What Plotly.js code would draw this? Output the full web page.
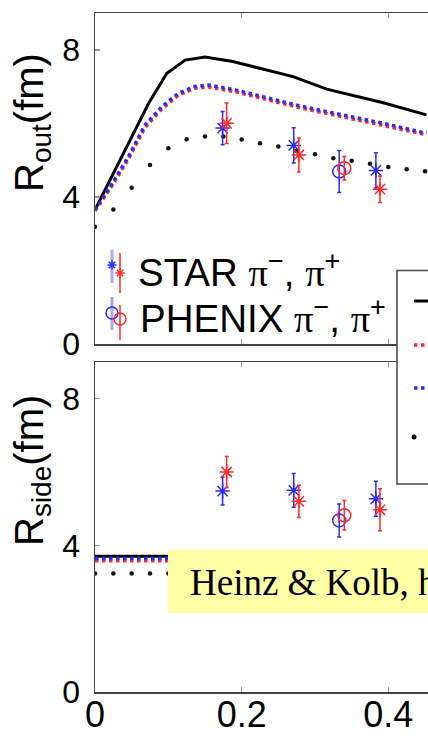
<!DOCTYPE html>
<html><head><meta charset="utf-8">
<script src="https://cdn.plot.ly/plotly-3.0.1.min.js"></script>
<style>html,body{margin:0;padding:0;overflow:hidden;background:#fff;width:428px;height:736px}#chart{width:560px;height:736px}</style>
</head><body><div id="chart"></div>
<script>
// ---------- data ----------
// model curves, top panel (R_out)
const routSolidX  = [0, 0.036, 0.073, 0.098, 0.123, 0.15, 0.188, 0.23, 0.27, 0.316, 0.36, 0.393, 0.452];
const routSolidY  = [3.65, 5.09, 6.54, 7.36, 7.72, 7.80, 7.68, 7.47, 7.27, 6.93, 6.72, 6.56, 6.23];
const routBlueX   = [0, 0.023, 0.0455, 0.068, 0.091, 0.114, 0.136, 0.155, 0.191, 0.23, 0.28, 0.33, 0.393, 0.452];
const routBlueY   = [3.65, 4.35, 5.09, 5.95, 6.45, 6.82, 7.00, 7.04, 6.91, 6.72, 6.47, 6.26, 6.00, 5.73];
const routRedY    = [3.62, 4.30, 5.03, 5.88, 6.39, 6.77, 6.95, 6.99, 6.86, 6.67, 6.42, 6.21, 5.95, 5.69];
const routDotX    = [0, 0.025, 0.05, 0.075, 0.1, 0.125, 0.15, 0.175, 0.2, 0.225, 0.25, 0.275, 0.3, 0.325, 0.35, 0.375, 0.4, 0.425, 0.45];
const routDotY    = [3.19, 3.66, 4.25, 4.87, 5.32, 5.57, 5.64, 5.64, 5.56, 5.46, 5.37, 5.25, 5.16, 5.05, 4.98, 4.90, 4.81, 4.75, 4.70];
// model curves, bottom panel (R_side), visible part only
const rsideCurveX = [0, 0.025, 0.05, 0.075, 0.1];
const rsideSolidY = [3.70, 3.70, 3.70, 3.70, 3.70];
const rsideBlueY  = [3.64, 3.64, 3.64, 3.64, 3.64];
const rsideRedY   = [3.58, 3.58, 3.58, 3.58, 3.58];
const rsideDotY   = [3.23, 3.23, 3.23, 3.23, 3.23];
// data points
const ktStarMinus   = [0.174, 0.271, 0.383];
const ktStarPlus    = [0.1795, 0.278, 0.3886];
const ktPhenixMinus = [0.333];
const ktPhenixPlus  = [0.340];
const routStarMinus = [5.87, 5.40, 4.72];  const routStarMinusErr = [0.45, 0.48, 0.48];
const routStarPlus  = [6.00, 5.14, 4.21];  const routStarPlusErr  = [0.55, 0.46, 0.36];
const routPhxMinus  = [4.69];              const routPhxMinusErr  = [0.57];
const routPhxPlus   = [4.78];              const routPhxPlusErr   = [0.32];
const rsideStarMinus = [5.48, 5.50, 5.27]; const rsideStarMinusErr = [0.38, 0.46, 0.48];
const rsideStarPlus  = [6.00, 5.20, 4.97]; const rsideStarPlusErr  = [0.42, 0.44, 0.57];
const rsidePhxMinus  = [4.68];             const rsidePhxMinusErr  = [0.45];
const rsidePhxPlus   = [4.82];             const rsidePhxPlusErr   = [0.40];
const xTicks = [0, 0.2, 0.4, 0.6];
const yTicks = [0, 4, 8];

// ---------- styling / layout ----------
const BLUE = '#2a2aff', RED = '#ff2a2a';
const W = 560, H = 736, ML = 95, MR = 25, MT = 13, MB = 44;
const PW = W - ML - MR, PH = H - MT - MB;
const px = v => (v - ML) / PW;          // pixel -> paper x
const py = v => (H - MB - v) / PH;      // pixel -> paper y
const SANS = 'Liberation Sans, Arial, Helvetica, sans-serif';
const SERIF = 'Liberation Serif, Times New Roman, serif';

function curve(x, y, xa, ya, color, dash, width) {
  return {x, y, xaxis: xa, yaxis: ya, type: 'scatter', mode: 'lines',
    line: {color, dash, width}, hoverinfo: 'skip', showlegend: false};
}
function dots(x, y, xa, ya) {
  return {x, y, xaxis: xa, yaxis: ya, type: 'scatter', mode: 'markers',
    marker: {color: '#111', size: 4.5}, hoverinfo: 'skip', showlegend: false};
}
function pts(x, y, e, xa, ya, color, symbol, size) {
  return {x, y, xaxis: xa, yaxis: ya, type: 'scatter', mode: 'markers',
    error_y: {type: 'data', array: e, visible: true, color, thickness: 1.5, width: 2},
    marker: {symbol, size, color, line: {color, width: 1.5}},
    hoverinfo: 'skip', showlegend: false};
}

const traces = [
  dots(routDotX, routDotY, 'x2', 'y2'),
  curve(routSolidX, routSolidY, 'x2', 'y2', '#000', 'solid', 3),
  curve(routBlueX, routRedY, 'x2', 'y2', RED, 'dot', 3.5),
  curve(routBlueX, routBlueY, 'x2', 'y2', BLUE, 'dot', 3.5),
  pts(ktStarMinus, routStarMinus, routStarMinusErr, 'x2', 'y2', BLUE, 'asterisk-open', 12),
  pts(ktStarPlus, routStarPlus, routStarPlusErr, 'x2', 'y2', RED, 'asterisk-open', 12),
  pts(ktPhenixMinus, routPhxMinus, routPhxMinusErr, 'x2', 'y2', BLUE, 'circle-open', 13),
  pts(ktPhenixPlus, routPhxPlus, routPhxPlusErr, 'x2', 'y2', RED, 'circle-open', 13),

  dots(rsideCurveX, rsideDotY, 'x', 'y'),
  curve(rsideCurveX, rsideSolidY, 'x', 'y', '#000', 'solid', 3),
  curve(rsideCurveX, rsideRedY, 'x', 'y', RED, 'dot', 3.5),
  curve(rsideCurveX, rsideBlueY, 'x', 'y', BLUE, 'dot', 3.5),
  pts(ktStarMinus, rsideStarMinus, rsideStarMinusErr, 'x', 'y', BLUE, 'asterisk-open', 12),
  pts(ktStarPlus, rsideStarPlus, rsideStarPlusErr, 'x', 'y', RED, 'asterisk-open', 12),
  pts(ktPhenixMinus, rsidePhxMinus, rsidePhxMinusErr, 'x', 'y', BLUE, 'circle-open', 13),
  pts(ktPhenixPlus, rsidePhxPlus, rsidePhxPlusErr, 'x', 'y', RED, 'circle-open', 13)
];

const axX = {range: [0, 0.6], tickvals: xTicks, ticks: 'inside', ticklen: 5, tickwidth: 1.5,
  tickcolor: '#999', showline: true, linecolor: '#444', linewidth: 1.5, mirror: 'ticks',
  showgrid: false, zeroline: false, ticklabelstandoff: -10,
  tickfont: {family: SANS, size: 36, color: '#000'}};
const axY = {range: [0, 9], tickvals: yTicks, ticks: 'inside', ticklen: 5, tickwidth: 1.5,
  tickcolor: '#999', showline: true, linecolor: '#444', linewidth: 1.5, mirror: 'ticks',
  showgrid: false, zeroline: false, ticklabelstandoff: 7,
  tickfont: {family: SANS, size: 32, color: '#000'}};

// legend glyph helpers (shapes in paper coords)
function seg(x0, y0, x1, y1, color, width, dash) {
  return {type: 'line', xref: 'paper', yref: 'paper', x0: px(x0), y0: py(y0), x1: px(x1), y1: py(y1),
    line: {color, width, dash: dash || 'solid'}, layer: 'above'};
}
function star(cx, cy, color) {
  const r = 4.5, d = 3.2;
  return [seg(cx - r, cy, cx + r, cy, color, 1.5), seg(cx, cy - r, cx, cy + r, color, 1.5),
          seg(cx - d, cy - d, cx + d, cy + d, color, 1.5), seg(cx - d, cy + d, cx + d, cy - d, color, 1.5)];
}
function ring(cx, cy, r, color, fill) {
  return {type: 'circle', xref: 'paper', yref: 'paper', x0: px(cx - r), x1: px(cx + r), y0: py(cy + r), y1: py(cy - r),
    line: {color, width: fill ? 0 : 1.5}, fillcolor: fill || 'rgba(0,0,0,0)', layer: 'above'};
}

const shapes = [
  // yellow note box (bottom panel)
  {type: 'rect', xref: 'x', yref: 'y', x0: 0.0995, x1: 0.8, y0: 2.15, y1: 3.88,
   fillcolor: '#ffffa6', line: {width: 0}, layer: 'above'},
  // right legend box
  {type: 'rect', xref: 'paper', yref: 'paper', x0: px(397), x1: px(700), y0: py(484), y1: py(270.5),
   fillcolor: '#fff', line: {color: '#444', width: 1.5}, layer: 'above'},
  seg(414, 301, 480, 301, '#000', 3),
  seg(414, 345, 480, 345, RED, 3.5, 'dot'),
  seg(414, 388, 480, 388, BLUE, 3.5, 'dot'),
  ring(414, 437, 2.5, '#000', '#000'),
  // left legend glyphs
  seg(112, 250, 112, 283, 'rgba(60,60,255,0.45)', 3),
  ...star(112, 265, BLUE),
  seg(120, 253, 120, 293, RED, 1.5),
  ...star(120, 273, RED),
  seg(112, 297, 112, 330, 'rgba(60,60,255,0.45)', 3),
  ring(112, 313, 6, BLUE),
  seg(120, 305, 120, 340, RED, 1.5),
  ring(120, 319, 6, RED)
];

const PI = '<span style="font-family:Liberation Serif">π</span>';
const annotations = [
  {xref: 'paper', yref: 'paper', x: px(136), y: py(269.5), xanchor: 'left', yanchor: 'middle',
   text: 'STAR ' + PI + '<sup>−</sup>, ' + PI + '<sup>+</sup>', showarrow: false,
   font: {family: SANS, size: 38.5, color: '#000'}},
  {xref: 'paper', yref: 'paper', x: px(138), y: py(315.5), xanchor: 'left', yanchor: 'middle',
   text: 'PHENIX ' + PI + '<sup>−</sup>, ' + PI + '<sup>+</sup>', showarrow: false,
   font: {family: SANS, size: 38.5, color: '#000'}},
  {xref: 'x', yref: 'y', x: 0.1268, y: 3.0, xanchor: 'left', yanchor: 'middle',
   text: 'Heinz &amp; Kolb, hep-ph/0204061', showarrow: false,
   font: {family: SERIF, size: 37, color: '#000'}},
  // y-axis titles
  {xref: 'paper', yref: 'paper', x: px(32), y: py(123), xanchor: 'center', yanchor: 'middle',
   textangle: -90, text: 'R<sub>out</sub>(fm)', showarrow: false,
   font: {family: SANS, size: 40, color: '#000'}},
  {xref: 'paper', yref: 'paper', x: px(32), y: py(471), xanchor: 'center', yanchor: 'middle',
   textangle: -90, text: 'R<sub>side</sub>(fm)', showarrow: false,
   font: {family: SANS, size: 40, color: '#000'}}
];

const layout = {
  width: W, height: H, margin: {l: ML, r: MR, t: MT, b: MB},
  paper_bgcolor: '#fff', plot_bgcolor: '#fff', showlegend: false, hovermode: false,
  xaxis: Object.assign({}, axX, {anchor: 'y'}),
  yaxis: Object.assign({}, axY, {domain: [0, (H - MB - 362) / PH], anchor: 'x'}),
  xaxis2: Object.assign({}, axX, {anchor: 'y2', matches: 'x', showticklabels: false}),
  yaxis2: Object.assign({}, axY, {domain: [(H - MB - 344) / PH, 1], anchor: 'x2'}),
  shapes, annotations
};

Plotly.newPlot('chart', traces, layout, {staticPlot: true, displayModeBar: false});
</script></body></html>
